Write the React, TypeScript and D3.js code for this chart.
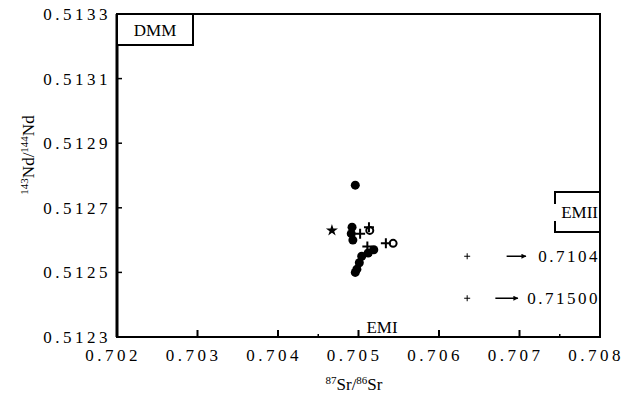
import { useEffect, useRef } from "react";
import * as d3 from "d3";

// tick values
const xTicks = [0.702, 0.703, 0.704, 0.705, 0.706, 0.707, 0.708];
const xMinorTicks = [0.7045, 0.7075];
const yTicks = [0.5123, 0.5125, 0.5127, 0.5129, 0.5131, 0.5133];

// samples: [87Sr/86Sr, 143Nd/144Nd]
const filledDots: [number, number][] = [
  [0.70496, 0.51277],
  [0.70492, 0.51264],
  [0.70491, 0.51262],
  [0.70493, 0.5126],
  [0.70519, 0.51257],
  [0.70512, 0.51256],
  [0.70504, 0.51255],
  [0.70501, 0.51253],
  [0.70498, 0.51251],
  [0.70496, 0.5125],
];
const plusPoints: [number, number][] = [
  [0.70502, 0.51262],
  [0.70513, 0.51264],
  [0.70534, 0.51259],
  [0.70511, 0.51258],
];
const openDots: [number, number][] = [
  [0.70514, 0.51263],
  [0.70543, 0.51259],
];
const starPoints: [number, number][] = [[0.70467, 0.51263]];

// points off the scale to the right (real Sr value given as label)
const offScaleX = 0.70635;
const offScaleNd = [0.51255, 0.51242];
const offScaleLabels = ["0.7104", "0.71500"];
const arrowFrom = [0.70684, 0.7067];
const arrowTo = [0.70708, 0.70698];

export default function App() {
  const svgRef = useRef<SVGSVGElement>(null);

  useEffect(() => {
    const svg = d3.select(svgRef.current);
    svg.selectAll("*").remove();

    const x = d3.scaleLinear().domain([0.702, 0.708]).range([117, 600]);
    const y = d3.scaleLinear().domain([0.5123, 0.5133]).range([337, 14]);
    const font = "'Liberation Serif', 'DejaVu Serif', serif";

    // frame
    svg
      .append("rect")
      .attr("x", x(0.702))
      .attr("y", y(0.5133))
      .attr("width", x(0.708) - x(0.702))
      .attr("height", y(0.5123) - y(0.5133))
      .attr("fill", "none")
      .attr("stroke", "#000")
      .attr("stroke-width", 2);
    svg
      .append("line")
      .attr("x1", x(0.702))
      .attr("x2", x(0.702))
      .attr("y1", y(0.5133))
      .attr("y2", y(0.5123))
      .attr("stroke", "#000")
      .attr("stroke-width", 3);

    // x ticks
    svg
      .selectAll("line.xt")
      .data(xTicks.slice(1, -1))
      .join("line")
      .attr("x1", (d) => x(d))
      .attr("x2", (d) => x(d))
      .attr("y1", y(0.5123))
      .attr("y2", y(0.5123) - 7)
      .attr("stroke", "#000")
      .attr("stroke-width", 2);
    svg
      .selectAll("line.xm")
      .data(xMinorTicks)
      .join("line")
      .attr("x1", (d) => x(d))
      .attr("x2", (d) => x(d))
      .attr("y1", y(0.5123))
      .attr("y2", y(0.5123) - 3)
      .attr("stroke", "#000")
      .attr("stroke-width", 1.5);
    svg
      .selectAll("text.xl")
      .data(xTicks)
      .join("text")
      .attr("x", (d) => x(d) - 4)
      .attr("y", 361)
      .attr("text-anchor", "middle")
      .style("font-family", font)
      .attr("font-size", 17)
      .attr("letter-spacing", 3.5)
      .text((d) => d3.format(".3f")(d));

    // y ticks
    svg
      .selectAll("line.yt")
      .data(yTicks.slice(1, -1))
      .join("line")
      .attr("x1", x(0.702))
      .attr("x2", x(0.702) + 5)
      .attr("y1", (d) => y(d))
      .attr("y2", (d) => y(d))
      .attr("stroke", "#000")
      .attr("stroke-width", 1.5);
    svg
      .selectAll("text.yl")
      .data(yTicks)
      .join("text")
      .attr("x", 111)
      .attr("y", (d) => y(d) + 6)
      .attr("text-anchor", "end")
      .style("font-family", font)
      .attr("font-size", 17)
      .attr("letter-spacing", 3.5)
      .text((d) => d3.format(".4f")(d));

    // axis titles
    const xt = svg
      .append("text")
      .attr("x", 354)
      .attr("y", 390)
      .attr("text-anchor", "middle")
      .style("font-family", font)
      .attr("font-size", 17);
    xt.append("tspan").attr("font-size", 11).attr("dy", -6).text("87");
    xt.append("tspan").attr("dy", 6).text("Sr/");
    xt.append("tspan").attr("font-size", 11).attr("dy", -6).text("86");
    xt.append("tspan").attr("dy", 6).text("Sr");

    const yt = svg
      .append("text")
      .attr("transform", "translate(34,155) rotate(-90)")
      .attr("text-anchor", "middle")
      .style("font-family", font)
      .attr("font-size", 17);
    yt.append("tspan").attr("font-size", 11).attr("dy", -6).text("143");
    yt.append("tspan").attr("dy", 6).text("Nd/");
    yt.append("tspan").attr("font-size", 11).attr("dy", -6).text("144");
    yt.append("tspan").attr("dy", 6).text("Nd");

    // end-member labels
    svg
      .append("rect")
      .attr("x", x(0.702))
      .attr("y", y(0.5133))
      .attr("width", 76)
      .attr("height", 31)
      .attr("fill", "#fff")
      .attr("stroke", "#000")
      .attr("stroke-width", 2);
    svg
      .append("text")
      .attr("x", x(0.702) + 38)
      .attr("y", y(0.5133) + 22)
      .attr("text-anchor", "middle")
      .style("font-family", font)
      .attr("font-size", 17)
      .text("DMM");

    const bx = 555;
    const by0 = 192;
    const by1 = 232;
    svg
      .append("path")
      .attr(
        "d",
        `M${bx},${by0 + 12}V${by0}H${x(0.708)}M${bx},${by1 - 11}V${by1}H${x(0.708)}`
      )
      .attr("fill", "none")
      .attr("stroke", "#000")
      .attr("stroke-width", 2);
    svg
      .append("text")
      .attr("x", 598)
      .attr("y", 218)
      .attr("text-anchor", "end")
      .style("font-family", font)
      .attr("font-size", 17)
      .text("EMII");

    svg
      .append("text")
      .attr("x", 382)
      .attr("y", 333)
      .attr("text-anchor", "middle")
      .style("font-family", font)
      .attr("font-size", 17)
      .text("EMI");

    // off-scale samples
    svg
      .selectAll("path.off")
      .data(offScaleNd)
      .join("path")
      .attr("transform", (d) => `translate(${x(offScaleX)},${y(d)})`)
      .attr("d", "M-3,0H3M0,-3V3")
      .attr("stroke", "#000")
      .attr("stroke-width", 1);

    svg
      .append("defs")
      .append("marker")
      .attr("id", "arr")
      .attr("viewBox", "0 0 10 10")
      .attr("refX", 9)
      .attr("refY", 5)
      .attr("markerWidth", 8)
      .attr("markerHeight", 5)
      .attr("markerUnits", "userSpaceOnUse")
      .attr("orient", "auto")
      .append("path")
      .attr("d", "M0,0L10,5L0,10z")
      .attr("fill", "#000");

    offScaleNd.forEach((nd, i) => {
      svg
        .append("line")
        .attr("x1", x(arrowFrom[i]))
        .attr("x2", x(arrowTo[i]))
        .attr("y1", y(nd))
        .attr("y2", y(nd))
        .attr("stroke", "#000")
        .attr("stroke-width", 1.5)
        .attr("marker-end", "url(#arr)");
      svg
        .append("text")
        .attr("x", 600)
        .attr("y", y(nd) + 6)
        .attr("text-anchor", "end")
        .style("font-family", font)
        .attr("font-size", 17)
        .attr("letter-spacing", 2.5)
        .text(offScaleLabels[i]);
    });

    // samples
    svg
      .selectAll("circle.f")
      .data(filledDots)
      .join("circle")
      .attr("cx", (d) => x(d[0]))
      .attr("cy", (d) => y(d[1]))
      .attr("r", 4.5)
      .attr("fill", "#000");

    svg
      .selectAll("circle.o")
      .data(openDots)
      .join("circle")
      .attr("class", "o")
      .attr("cx", (d) => x(d[0]))
      .attr("cy", (d) => y(d[1]))
      .attr("r", 3.5)
      .attr("fill", "#fff")
      .attr("stroke", "#000")
      .attr("stroke-width", 2);

    svg
      .selectAll("path.p")
      .data(plusPoints)
      .join("path")
      .attr("class", "p")
      .attr("transform", (d) => `translate(${x(d[0])},${y(d[1])})`)
      .attr("d", "M-5,0H5M0,-5V5")
      .attr("stroke", "#000")
      .attr("stroke-width", 2);

    svg
      .selectAll("path.s")
      .data(starPoints)
      .join("path")
      .attr("class", "s")
      .attr("transform", (d) => `translate(${x(d[0])},${y(d[1])})`)
      .attr("d", d3.symbol().type(d3.symbolStar).size(45)())
      .attr("fill", "#000");
  }, []);

  return (
    <svg
      ref={svgRef}
      width={635}
      height={396}
      style={{ position: "absolute", left: 0, top: 0, background: "#fff" }}
    />
  );
}
